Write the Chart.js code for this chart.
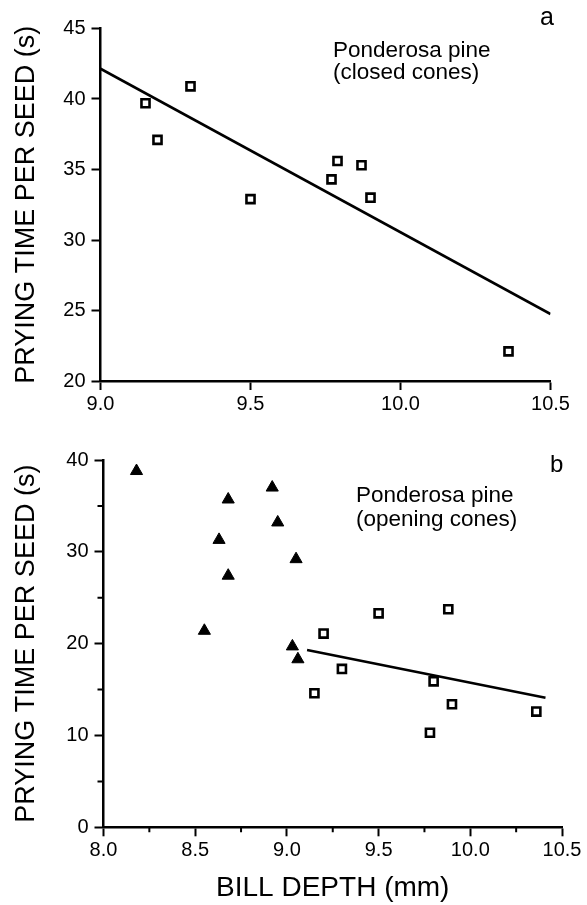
<!DOCTYPE html>
<html><head><meta charset="utf-8">
<script src="https://cdn.jsdelivr.net/npm/chart.js@4.4.0/dist/chart.umd.min.js"></script>
<style>
html,body{margin:0;padding:0;background:#fff;}
#wrap{position:relative;width:587px;height:905px;overflow:hidden;}
#c1{position:absolute;left:0;top:0;}
#c2{position:absolute;left:0;top:440px;}
</style></head><body>
<div id="wrap"><canvas id="c1" width="587" height="440"></canvas><canvas id="c2" width="587" height="465"></canvas></div>
<script>
// ---- Panel a: closed cones ----
const closedDepth = [9.15, 9.19, 9.30, 9.50, 9.77, 9.79, 9.87, 9.90, 10.36];
const closedTime  = [39.7, 37.1, 40.9, 32.9, 34.3, 35.6, 35.3, 33.0, 22.1];
const closedFitDepth = [9.0, 10.5];
const closedFitTime  = [42.15, 24.75];
const aXTicks = [9.0, 9.5, 10.0, 10.5];
const aYTicks = [20, 25, 30, 35, 40, 45];

// ---- Panel b: opening cones ----
const triDepth = [8.18, 8.68, 8.92, 8.95, 8.63, 8.68, 9.05, 8.55, 9.03, 9.06];
const triTime  = [38.8, 35.7, 37.0, 33.2, 31.3, 27.4, 29.2, 21.4, 19.7, 18.3];
const sqDepth  = [9.20, 9.50, 9.88, 9.30, 9.80, 9.15, 9.90, 9.78, 10.36];
const sqTime   = [21.1, 23.3, 23.75, 17.25, 15.9, 14.6, 13.4, 10.3, 12.6];
const openFitDepth = [9.11, 10.41];
const openFitTime  = [19.3, 14.1];
const bXTicks = [8.0, 8.5, 9.0, 9.5, 10.0, 10.5];
const bXMinor = [8.25, 8.75, 9.25, 9.75, 10.25];
const bYTicks = [0, 10, 20, 30, 40];
const bYMinor = [5, 15, 25, 35];

const yTitle = 'PRYING TIME PER SEED (s)';
const xTitle = 'BILL DEPTH (mm)';

const FONT = '"Liberation Sans", Arial, Helvetica, sans-serif';
Chart.defaults.font.family = FONT;
Chart.defaults.color = '#000';

const pts = (xs, ys) => xs.map((x, i) => ({x: x, y: ys[i]}));

function axis(opts) {
  return Object.assign({
    type: 'linear',
    grid: {drawOnChartArea: false, drawTicks: true, tickLength: 9, tickColor: '#000', tickWidth: 2, color: '#000'},
    border: {display: true, color: '#000', width: 2.5},
  }, opts);
}

const textPlugin = {
  id: 'annot',
  afterDraw(chart, args, o) {
    const ctx = chart.ctx;
    ctx.save();
    ctx.fillStyle = '#000';
    ctx.textBaseline = 'alphabetic';
    ctx.textAlign = 'left';
    (o.items || []).forEach(it => {
      ctx.font = it.size + 'px ' + FONT;
      ctx.fillText(it.text, it.x, it.y);
    });
    // minor ticks
    const xs = chart.scales.x, ys = chart.scales.y, ca = chart.chartArea;
    ctx.strokeStyle = '#000';
    ctx.lineWidth = 2;
    ctx.beginPath();
    (o.minorX || []).forEach(v => {
      const p = xs.getPixelForValue(v);
      ctx.moveTo(p, ca.bottom); ctx.lineTo(p, ca.bottom + 5);
    });
    (o.minorY || []).forEach(v => {
      const p = ys.getPixelForValue(v);
      ctx.moveTo(ca.left, p); ctx.lineTo(ca.left - 6, p);
    });
    ctx.stroke();
    ctx.restore();
  }
};

const sqStyle = {pointStyle: 'rect', pointRadius: 5.7, pointHoverRadius: 5.7, borderWidth: 2.6, pointBorderWidth: 2.6, borderColor: '#000', backgroundColor: '#fff', pointBackgroundColor: '#fff', showLine: false};
const fitStyle = {showLine: true, pointRadius: 0, borderColor: '#000', borderWidth: 2.6, fill: false};

new Chart(document.getElementById('c1'), {
  type: 'scatter',
  data: {datasets: [
    Object.assign({label: 'closed', data: pts(closedDepth, closedTime)}, sqStyle),
    Object.assign({label: 'fit', data: pts(closedFitDepth, closedFitTime)}, fitStyle)
  ]},
  options: {
    responsive: false, animation: false,
    layout: {padding: {left: 0, top: 28.5, right: 36.5, bottom: 0}},
    plugins: {legend: {display: false}, tooltip: {enabled: false},
      annot: {items: [
        {text: 'a', x: 540, y: 25, size: 25},
        {text: 'Ponderosa pine', x: 333, y: 57, size: 22.5},
        {text: '(closed cones)', x: 333, y: 78.5, size: 22.5}
      ]}},
    scales: {
      x: axis({min: 9, max: 10.5,
        afterBuildTicks: s => { s.ticks = aXTicks.map(v => ({value: v})); },
        ticks: {font: {size: 20}, color: '#000', padding: 2, maxRotation: 0, autoSkip: false, callback: v => Number(v).toFixed(1)},
        afterFit: s => { s.height = 59; }}),
      y: axis({min: 20, max: 45,
        afterBuildTicks: s => { s.ticks = aYTicks.map(v => ({value: v})); },
        ticks: {font: {size: 20}, color: '#000', padding: 6, autoSkip: false},
        title: {display: true, text: yTitle, font: {size: 27}, color: '#000', padding: {top: 10, bottom: 0}},
        afterFit: s => { s.width = 100.5; }})
    }
  },
  plugins: [textPlugin]
});

new Chart(document.getElementById('c2'), {
  type: 'scatter',
  data: {datasets: [
    Object.assign({label: 'open-sq', data: pts(sqDepth, sqTime)}, sqStyle),
    {label: 'open-tri', data: pts(triDepth, triTime), pointStyle: 'triangle', pointRadius: 7, pointHoverRadius: 7, borderWidth: 1, borderColor: '#000', backgroundColor: '#000', showLine: false},
    Object.assign({label: 'fit', data: pts(openFitDepth, openFitTime)}, fitStyle)
  ]},
  options: {
    responsive: false, animation: false,
    layout: {padding: {left: 0, top: 20, right: 25, bottom: 0}},
    plugins: {legend: {display: false}, tooltip: {enabled: false},
      annot: {minorX: bXMinor, minorY: bYMinor, items: [
        {text: 'b', x: 550, y: 31.5, size: 24},
        {text: 'Ponderosa pine', x: 356, y: 61.5, size: 22.5},
        {text: '(opening cones)', x: 356, y: 85.5, size: 22.5}
      ]}},
    scales: {
      x: axis({min: 8, max: 10.5,
        afterBuildTicks: s => { s.ticks = bXTicks.map(v => ({value: v})); },
        ticks: {font: {size: 20}, color: '#000', padding: 2, maxRotation: 0, autoSkip: false, callback: v => Number(v).toFixed(1)},
        title: {display: true, text: xTitle, font: {size: 28}, color: '#000', padding: {top: 0, bottom: 0}},
        afterFit: s => { s.height = 77.7; }}),
      y: axis({min: 0, max: 40,
        afterBuildTicks: s => { s.ticks = bYTicks.map(v => ({value: v})); },
        ticks: {font: {size: 20}, color: '#000', padding: 6, autoSkip: false},
        title: {display: true, text: yTitle, font: {size: 27}, color: '#000', padding: {top: 10, bottom: 0}},
        afterFit: s => { s.width = 103.5; }})
    }
  },
  plugins: [textPlugin]
});
</script>
</body></html>
